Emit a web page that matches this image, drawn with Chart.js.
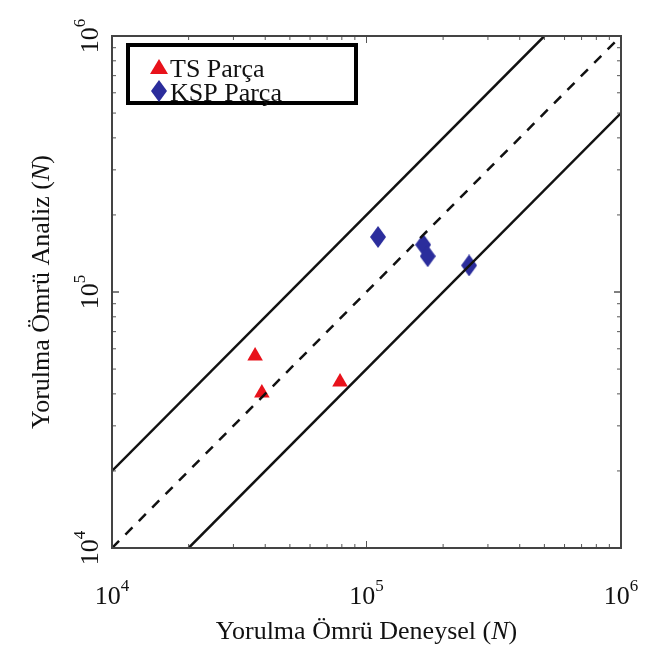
<!DOCTYPE html>
<html>
<head>
<meta charset="utf-8">
<script src="https://cdn.jsdelivr.net/npm/chart.js@4"></script>
<style>
  html, body { margin: 0; padding: 0; background: #fff; }
  #wrap { width: 659px; height: 648px; position: relative; }
</style>
</head>
<body>
<div id="wrap"><canvas id="myChart" width="659" height="648"></canvas></div>
<script>
// experimental vs analysis fatigue life
const tsX = [36500, 38800, 78700];
const tsY = [56200, 40300, 44500];
const kspX = [111000, 167000, 174000, 253000];
const kspY = [164000, 153000, 138000, 127000];
const axisMin = 1e4;
const axisMax = 1e6;
const bandFactor = 2;
const tickPowers = [4, 5, 6];
const seriesNames = ["TS Parça", "KSP Parça"];

const toPts = (xs, ys) => xs.map((x, i) => ({ x: x, y: ys[i] }));

const serif = '"Liberation Serif", "DejaVu Serif", serif';
const red = "#e8121b";
const blue = "#2b2d9c";

// tall diamond marker
const diamond = document.createElement("canvas");
diamond.width = 16; diamond.height = 22;
(function () {
  const c = diamond.getContext("2d");
  c.fillStyle = blue;
  c.beginPath();
  c.moveTo(8, 0); c.lineTo(16, 11); c.lineTo(8, 22); c.lineTo(0, 11);
  c.closePath(); c.fill();
})();

// ticks, labels, frame and legend drawn on top
const decor = {
  id: "decor",
  afterDatasetsDraw(chart) {
    const ctx = chart.ctx;
    const a = chart.chartArea;
    const xs = chart.scales.x, ys = chart.scales.y;
    ctx.save();
    // minor/major ticks inside
    ctx.strokeStyle = "#555";
    ctx.lineWidth = 1;
    for (let p = 4; p < 6; p++) {
      for (let m = 1; m <= 10; m++) {
        const v = m * Math.pow(10, p);
        const len = (m === 1 || m === 10) ? 7 : 4;
        const px = xs.getPixelForValue(v);
        const py = ys.getPixelForValue(v);
        ctx.beginPath();
        ctx.moveTo(px, a.bottom); ctx.lineTo(px, a.bottom - len);
        ctx.moveTo(px, a.top); ctx.lineTo(px, a.top + len);
        ctx.moveTo(a.left, py); ctx.lineTo(a.left + len, py);
        ctx.moveTo(a.right, py); ctx.lineTo(a.right - len, py);
        ctx.stroke();
      }
    }
    // frame
    ctx.strokeStyle = "#444";
    ctx.lineWidth = 2;
    ctx.strokeRect(a.left, a.top, a.right - a.left, a.bottom - a.top);

    // tick labels
    ctx.fillStyle = "#111";
    ctx.textBaseline = "alphabetic";
    const drawPow = (cx, cy, p, rot) => {
      ctx.save();
      ctx.translate(cx, cy);
      if (rot) ctx.rotate(-Math.PI / 2);
      ctx.font = "26px " + serif;
      const w1 = ctx.measureText("10").width;
      ctx.font = "17px " + serif;
      const w2 = ctx.measureText(String(p)).width;
      const x0 = -(w1 + w2) / 2;
      ctx.font = "26px " + serif;
      ctx.textAlign = "left";
      ctx.fillText("10", x0, 9);
      ctx.font = "17px " + serif;
      ctx.fillText(String(p), x0 + w1, -4);
      ctx.restore();
    };
    tickPowers.forEach(p => {
      const v = Math.pow(10, p);
      drawPow(xs.getPixelForValue(v), a.bottom + 47, p, false);
      drawPow(a.left - 23, ys.getPixelForValue(v), p, true);
    });

    // axis titles with italic N
    const drawTitle = (cx, cy, main, rot) => {
      ctx.save();
      ctx.translate(cx, cy);
      if (rot) ctx.rotate(-Math.PI / 2);
      ctx.font = "26px " + serif;
      const w1 = ctx.measureText(main + " (").width;
      ctx.font = "italic 26px " + serif;
      const w2 = ctx.measureText("N").width;
      ctx.font = "26px " + serif;
      const w3 = ctx.measureText(")").width;
      let x0 = -(w1 + w2 + w3) / 2;
      ctx.textAlign = "left";
      ctx.fillText(main + " (", x0, 9);
      ctx.font = "italic 26px " + serif;
      ctx.fillText("N", x0 + w1, 9);
      ctx.font = "26px " + serif;
      ctx.fillText(")", x0 + w1 + w2, 9);
      ctx.restore();
    };
    drawTitle((a.left + a.right) / 2, a.bottom + 82, "Yorulma Ömrü Deneysel", false);
    drawTitle(a.left - 72, (a.top + a.bottom) / 2, "Yorulma Ömrü Analiz", true);

    // legend box
    const lx = a.left + 16, ly = a.top + 9, lw = 228, lh = 58;
    ctx.strokeStyle = "#000";
    ctx.lineWidth = 4;
    ctx.fillStyle = "#fff";
    ctx.fillRect(lx, ly, lw, lh);
    ctx.strokeRect(lx, ly, lw, lh);
    ctx.fillStyle = red;
    ctx.beginPath();
    ctx.moveTo(lx + 31, ly + 14); ctx.lineTo(lx + 40, ly + 29); ctx.lineTo(lx + 22, ly + 29);
    ctx.closePath(); ctx.fill();
    ctx.drawImage(diamond, lx + 23, ly + 35);
    ctx.fillStyle = "#111";
    ctx.font = "26px " + serif;
    ctx.textAlign = "left";
    ctx.fillText(seriesNames[0], lx + 42, ly + 32);
    ctx.fillText(seriesNames[1], lx + 42, ly + 56);
    ctx.restore();
  }
};

new Chart(document.getElementById("myChart").getContext("2d"), {
  type: "scatter",
  data: {
    datasets: [
      {
        label: "upper",
        type: "line",
        data: toPts([axisMin, axisMax / bandFactor], [axisMin * bandFactor, axisMax]),
        borderColor: "#111",
        borderWidth: 2.5,
        pointRadius: 0,
        fill: false
      },
      {
        label: "ideal",
        type: "line",
        data: toPts([axisMin, axisMax], [axisMin, axisMax]),
        borderColor: "#111",
        borderWidth: 2.5,
        borderDash: [10, 9],
        pointRadius: 0,
        fill: false
      },
      {
        label: "lower",
        type: "line",
        data: toPts([axisMin * bandFactor, axisMax], [axisMin, axisMax / bandFactor]),
        borderColor: "#111",
        borderWidth: 2.5,
        pointRadius: 0,
        fill: false
      },
      {
        label: seriesNames[0],
        data: toPts(tsX, tsY),
        pointStyle: "triangle",
        pointRadius: 9,
        backgroundColor: red,
        borderColor: red,
        borderWidth: 0
      },
      {
        label: seriesNames[1],
        data: toPts(kspX, kspY),
        pointStyle: diamond,
        pointRadius: 9,
        backgroundColor: blue,
        borderColor: blue,
        borderWidth: 0
      }
    ]
  },
  options: {
    responsive: false,
    animation: false,
    layout: { padding: { left: 112, right: 38, top: 36, bottom: 100 } },
    plugins: { legend: { display: false }, tooltip: { enabled: false } },
    scales: {
      x: { type: "logarithmic", min: axisMin, max: axisMax, display: false },
      y: { type: "logarithmic", min: axisMin, max: axisMax, display: false }
    }
  },
  plugins: [decor]
});
</script>
</body>
</html>
